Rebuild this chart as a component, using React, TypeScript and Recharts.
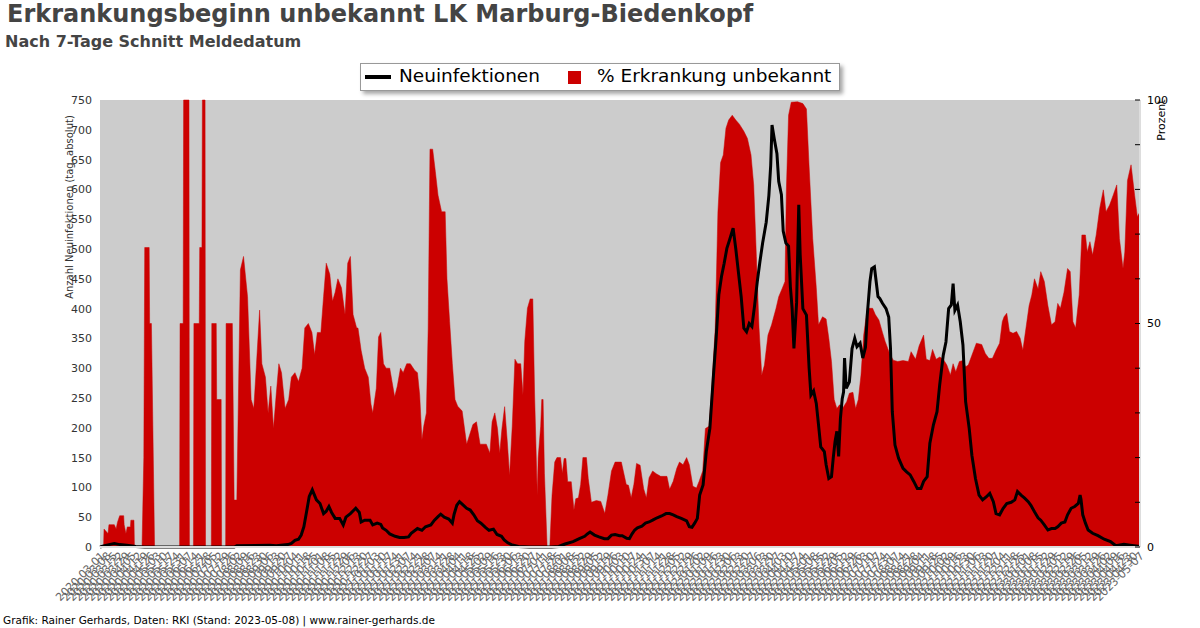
import React from "react"
import {
  ComposedChart,
  Area,
  Line,
  XAxis,
  YAxis,
  CartesianGrid,
} from "recharts"

// Tag 0 = 2020-03-01, Stand 2023-05-08
const START_DATE = Date.UTC(2020, 2, 1)
const LAST_DAY = 1163

// [Tag, % Erkrankungsbeginn unbekannt]
const unknownShare: [number, number][] = [
  [0, 0], [4, 0], [4.5, 4], [9, 3], [10, 5], [16, 5], [18, 4], [19.5, 5.5], [22, 7], [26.5, 7],
  [27, 5], [29, 3], [30.5, 4.5], [34, 4.5], [34.5, 6], [38, 6], [38.5, 0],
  [47, 0], [49, 20], [50, 67], [55, 67], [55.5, 50], [57.5, 50], [61, 0],
  [89, 0], [89.5, 50], [93, 50], [93.5, 100], [99.5, 100], [100, 0],
  [104.5, 0], [105, 50], [111, 50], [111.5, 67], [114, 67], [114.5, 100], [117.5, 100], [118, 0],
  [124.5, 0], [125, 50], [130, 50], [130.5, 33], [135.5, 33], [136, 0],
  [140.5, 0], [141, 50], [148, 50], [150, 10.5], [153, 10.5],
  [157, 62], [160.5, 65], [165, 56], [169, 33], [172, 31], [175, 41], [178.5, 53], [181, 41],
  [185, 38], [188, 30], [191, 36], [194, 26.5], [197, 34], [200, 41], [203, 39], [207, 31],
  [211, 33], [214, 38], [218, 39], [222, 37], [226, 40], [229, 49], [233, 50], [237, 48],
  [240, 43], [243, 48], [247, 48], [250, 56], [253, 63.5], [257, 61], [260, 55], [263, 57],
  [266, 60], [270, 58], [274, 52], [277, 63.5], [280, 65], [283, 52], [287, 49],
  [288.5, 49], [292, 44], [296, 40], [300, 38], [303, 32], [305, 30], [309, 35.5], [311.5, 47],
  [314, 48], [317, 41], [320, 40], [324, 40], [329.5, 33.6], [332.5, 36], [336, 40], [339, 39],
  [343, 41], [347, 41], [352, 39.5], [355, 39], [357.5, 34], [360, 24], [362, 27], [365, 30],
  [367, 49], [369, 89], [372, 89], [375, 84], [378, 78.7], [382, 75], [386, 75], [388, 60],
  [391, 50.4], [394, 41], [397, 33], [400, 31.5], [405, 30.4], [410, 23], [414, 25.5], [417, 27.4],
  [421, 28], [425, 23], [432, 23], [436, 21], [438.5, 28], [441.5, 30], [444.5, 26.5], [447, 21],
  [449.5, 26.5], [452.5, 31.4], [455.5, 23.5], [458, 16], [461, 27], [464, 42], [467, 41],
  [470.5, 41], [473, 34], [475, 46], [478, 53.4], [481, 55.5], [484, 55.5], [486, 34], [489, 11.6],
  [490, 20], [492.8, 27], [494, 33], [495.5, 33], [497, 16.5], [500, 0], [503, 0], [505.5, 11.6],
  [508.5, 19], [511, 20], [515, 20], [517, 16.5], [519, 19.8], [521, 19.8], [523, 14.6], [527, 14.6],
  [530, 8.3], [532, 10.8], [535, 11], [537.5, 14], [540, 20], [544, 20], [546, 15.3], [549.5, 10],
  [555, 10.4], [560, 10.2], [564.5, 7.5], [568, 11.6], [572, 17], [576, 19], [581, 19],
  [583, 19], [588.5, 14], [591, 13.8], [594, 11], [597, 14], [600, 18.7], [604, 18.3], [608, 13],
  [611, 11], [614, 15.5], [618, 17], [622, 16.4], [627, 15.8], [634, 15.8], [637, 12.9], [641, 14.7],
  [645, 17.6], [648, 19], [652, 18.4], [656, 20], [659, 18.4], [663, 13.6], [667, 13.2], [670, 14.7],
  [674, 17], [677, 26.5], [681, 27], [684, 35], [688, 49], [691, 75], [694, 86], [697, 87.7],
  [700, 93.7], [703, 95.5], [707, 96.6], [711, 95.5], [715, 94.6], [720, 93], [724, 91.4],
  [728, 87.7], [731, 81], [734, 65], [737, 49], [740, 38.5], [743, 40.7], [747, 47.4], [751, 49.7],
  [756, 53.4], [759, 56], [763, 57.9], [766, 59.4], [767.5, 79.5], [770, 96.6], [773, 99.5],
  [780, 99.6], [786, 99.2], [790, 98], [793, 85], [797, 69], [801, 58], [803.5, 49.7], [808, 51.5],
  [812, 51], [815, 46.7], [818, 41.5], [821, 33], [824, 31], [827, 31.8], [831, 31.2], [835, 32.5],
  [838, 34.4], [842, 34.6], [845, 31], [848, 33], [851, 38.5], [854, 47.4], [858, 53.4], [864, 53.4],
  [867, 52], [871, 50.8],
  [875, 48], [878, 46], [883, 43.3], [887, 41.8], [892, 41.5], [898, 41.7], [904, 41.5], [907, 43.7],
  [912, 42], [916, 45], [921, 47.4], [924, 42], [928, 41.7], [931, 44.2], [935, 42], [939, 42.5],
  [943, 42], [947, 40.7], [951, 38.5], [954, 41], [957, 39.2], [961, 41.5], [965, 41.7], [968, 40.3],
  [971, 40.7], [975, 42.9], [980, 45.6], [986, 45.3], [990, 43.3], [994, 42.2], [998, 42.2],
  [1002, 44], [1006, 45.6], [1009, 50.4], [1011, 51.5], [1014, 52.3], [1017, 48.2], [1021, 47.8],
  [1025, 48.2], [1029, 46.7], [1032, 44], [1036, 49.7], [1039, 54], [1042, 56.4], [1045, 60],
  [1049, 57.7], [1052, 61.6], [1056, 59.4], [1060, 54], [1064, 49.7], [1068, 50.4], [1071, 54.5],
  [1074, 53.4], [1078, 57], [1082, 62.3], [1085, 61.6], [1088, 50.4], [1091, 49], [1095, 56.4],
  [1098, 69.8], [1102, 69.8], [1104, 66], [1107, 68.3], [1110, 65.3], [1114, 69.8], [1118, 75.8],
  [1122, 79.9], [1125, 75], [1129, 76.5], [1133, 78.7], [1137, 81], [1140, 69], [1144, 62.3],
  [1146, 66], [1149, 82], [1153, 85.5], [1157, 78.7], [1160, 73.9], [1163, 75],
]

// [Tag, Neuinfektionen (7-Tage-Schnitt)]
const newCases: [number, number][] = [
  [0, 0], [5, 2], [10, 4], [16, 6], [22, 4], [30, 3], [40, 1], [50, 0], [150, 0], [153, 2],
  [190, 3], [197, 2], [210, 4], [214, 6], [218, 11], [222, 13], [225, 20], [228, 34], [231, 59],
  [234, 85], [237.4, 96], [239, 90], [242, 79], [246, 73], [250, 56], [253, 60], [256, 68],
  [259, 58], [263, 48], [268, 48], [272, 37], [275, 50], [280, 56], [284, 62], [286, 65], [290, 58],
  [292, 42], [296, 45], [302, 45], [305, 37], [310, 40], [314, 38], [316, 32], [320, 28], [324, 22],
  [330, 18], [335, 16], [340, 16], [345, 17], [348, 23], [355, 31], [360, 28], [364, 34], [370, 37],
  [374, 45], [378, 51], [381, 55], [385, 50], [390, 47], [394, 40], [396, 55], [399, 70], [402, 76],
  [405, 72], [410, 65], [414, 62], [418, 54], [422, 44], [426, 40], [431, 33], [435, 28], [440, 30],
  [444, 21], [449, 18], [452, 12], [456, 7], [460, 4], [468, 1], [480, 0], [505, 0], [513, 1],
  [520, 5], [529, 9], [536, 14], [542, 18], [545, 22], [548, 25], [553, 20], [558, 17], [564, 14],
  [568, 14], [572, 20], [576, 21], [581, 19],
  [584, 19], [589, 14.5], [592, 14], [595, 22], [598, 28.5], [601, 32], [606, 35], [610, 40],
  [614, 42], [618, 45], [623, 49], [628, 52], [633, 56], [637, 56], [641, 54], [645, 51], [650, 48],
  [656, 44], [659, 34], [662, 33], [665, 40], [668, 48], [670.6, 87], [674.4, 104], [678, 160],
  [682, 199], [686, 288], [689, 350], [692, 423], [695, 454], [698, 476], [701, 501], [704, 515],
  [708, 535], [711, 500], [714, 460], [717, 420], [720, 367], [723, 361], [726, 375], [729, 370],
  [732, 405], [735, 445], [738, 479], [741, 510], [745, 545], [748, 590], [750, 640], [751.5, 708],
  [754, 685], [757, 660], [759, 613], [762, 591], [764, 530], [767, 510], [770, 505], [772, 437],
  [774, 400], [776, 333], [779, 410], [781.4, 574], [783, 490], [786, 400], [790, 389], [793, 300],
  [795, 255], [798, 262], [801, 241], [803.5, 205], [806, 168], [810, 160], [812, 138], [815, 115],
  [818, 118], [820, 150], [822, 177], [824, 194], [826, 152], [828, 216], [830, 249], [831.5, 260],
  [832.6, 317], [834.5, 266], [838, 277], [841, 333], [844, 350], [846.5, 336], [850, 342],
  [853, 317], [856, 335], [858, 389], [861, 445], [863, 467], [866, 470], [868, 445], [870, 420],
  [872, 417], [875, 409], [879, 400], [882, 386], [884, 333], [886, 227], [889, 171], [893, 149],
  [898, 132], [902, 126], [906, 121], [910, 110], [914, 98], [918, 98], [921, 110], [925, 118],
  [928, 174], [932, 205], [936, 227], [939, 272], [943, 322], [946, 344], [949, 400], [952, 406],
  [954, 442], [956, 397], [959, 406], [962, 378], [965, 339], [968, 244], [972, 199], [975, 154],
  [979, 115], [983, 87], [987, 79], [991, 84], [995, 90], [999, 76], [1002, 56], [1006, 54],
  [1010, 65], [1014, 73], [1019, 75], [1023, 79], [1026, 93], [1030, 87], [1034, 82], [1038, 76],
  [1041, 70], [1045, 59], [1049, 49], [1052, 45], [1056, 37], [1060, 28.5], [1064, 31], [1068, 31],
  [1071, 34], [1075, 40], [1079, 42], [1082, 54], [1086, 65], [1090, 68], [1094, 73], [1096, 87],
  [1097, 80], [1099, 54], [1102, 40], [1105, 28.5], [1110, 23], [1116, 19], [1123, 13], [1130, 9],
  [1136, 2], [1145, 4.5], [1152, 3], [1163, 1],
]

const caseTicks = [0, 50, 100, 150, 200, 250, 300, 350, 400, 450, 500, 550, 600, 650, 700, 750]
const pctTicks = [0, 10, 20, 30, 40, 50, 60, 70, 80, 90, 100]
const pctLabelled = [0, 50, 100]
const DATE_STEP = 7

const dateTicks: number[] = []
for (let d = 0; d <= LAST_DAY; d += DATE_STEP) dateTicks.push(d)

const formatDate = (d: number) =>
  new Date(START_DATE + d * 86400000).toISOString().slice(0, 10)

const shareData = unknownShare.map(([d, v]) => ({ d, v }))
const caseData = newCases.map(([d, v]) => ({ d, v }))

const RED = "#cc0000"
const FONT = "'DejaVu Sans', sans-serif"

export default function App() {
  return (
    <div
      style={{
        position: "absolute",
        left: 0,
        top: 0,
        width: 1200,
        height: 628,
        background: "#fff",
        fontFamily: FONT,
      }}
    >
      <ComposedChart
        width={1200}
        height={628}
        margin={{ top: 100, right: 0, bottom: 0, left: 0 }}
      >
        <CartesianGrid
          horizontal={false}
          vertical={false}
          fill="#cccccc"
          stroke="none"
        />
        <XAxis
          dataKey="d"
          type="number"
          domain={[0, LAST_DAY]}
          ticks={dateTicks}
          interval={0}
          tickFormatter={formatDate}
          angle={-45}
          textAnchor="end"
          height={81}
          tickSize={0}
          tickMargin={4}
          axisLine={{ stroke: "#dddddd", strokeWidth: 2 }}
          tick={{ fontSize: 11, fill: "#666", stroke: "none", fontFamily: FONT }}
        />
        <YAxis
          yAxisId="cases"
          orientation="left"
          width={100}
          domain={[0, 750]}
          ticks={caseTicks}
          interval={0}
          tickSize={0}
          tickMargin={8}
          axisLine={false}
          tick={{ fontSize: 11, fill: "#333", stroke: "none", fontFamily: FONT }}
        />
        <YAxis
          yAxisId="pct"
          orientation="right"
          width={60}
          domain={[0, 100]}
          ticks={pctTicks}
          interval={0}
          tickSize={-5}
          tickMargin={12}
          tickLine={{ stroke: "#000" }}
          axisLine={{ stroke: "#dddddd", strokeWidth: 2 }}
          tickFormatter={(v: number) => (pctLabelled.includes(v) ? String(v) : "")}
          tick={{ fontSize: 11, fill: "#000", stroke: "none", fontFamily: FONT }}
        />
        <Area
          yAxisId="pct"
          data={shareData}
          dataKey="v"
          type="linear"
          fill={RED}
          fillOpacity={1}
          stroke={RED}
          strokeWidth={0.5}
          isAnimationActive={false}
        />
        <Line
          yAxisId="cases"
          data={caseData}
          dataKey="v"
          type="linear"
          stroke="#000"
          strokeWidth={3}
          dot={false}
          isAnimationActive={false}
        />
      </ComposedChart>

      <div
        style={{
          position: "absolute",
          left: 7,
          top: 0,
          fontSize: 24,
          fontWeight: "bold",
          color: "#444",
          whiteSpace: "nowrap",
        }}
      >
        Erkrankungsbeginn unbekannt LK Marburg-Biedenkopf
      </div>
      <div
        style={{
          position: "absolute",
          left: 5,
          top: 32,
          fontSize: 16,
          fontWeight: "bold",
          color: "#444",
          whiteSpace: "nowrap",
        }}
      >
        Nach 7-Tage Schnitt Meldedatum
      </div>

      {/* Legende */}
      <div
        style={{
          position: "absolute",
          left: 360,
          top: 63,
          width: 478,
          height: 26,
          border: "1px solid #999",
          background: "#fff",
          boxShadow: "3px 3px 4px rgba(0,0,0,0.35)",
          fontSize: 18.5,
          color: "#000",
          whiteSpace: "nowrap",
        }}
      >
        <div
          style={{
            position: "absolute",
            left: 4,
            top: 11,
            width: 26,
            height: 4,
            background: "#000",
          }}
        />
        <div style={{ position: "absolute", left: 38, top: 1 }}>Neuinfektionen</div>
        <div
          style={{
            position: "absolute",
            left: 207,
            top: 7,
            width: 13,
            height: 13,
            background: RED,
          }}
        />
        <div style={{ position: "absolute", left: 236, top: 1 }}>% Erkrankung unbekannt</div>
      </div>

      <div
        style={{
          position: "absolute",
          left: 70 - 150,
          top: 207 - 7,
          width: 300,
          height: 14,
          lineHeight: "14px",
          textAlign: "center",
          fontSize: 10,
          color: "#333",
          transform: "rotate(-90deg)",
          whiteSpace: "nowrap",
        }}
      >
        Anzahl Neuinfektionen (tag. absolut)
      </div>
      <div
        style={{
          position: "absolute",
          left: 1162 - 40,
          top: 120 - 7,
          width: 80,
          height: 14,
          lineHeight: "14px",
          textAlign: "center",
          fontSize: 11,
          color: "#000",
          transform: "rotate(-90deg)",
          whiteSpace: "nowrap",
        }}
      >
        Prozent
      </div>

      <div
        style={{
          position: "absolute",
          left: 3,
          top: 614,
          fontSize: 10.5,
          color: "#000",
          whiteSpace: "nowrap",
        }}
      >
        Grafik: Rainer Gerhards, Daten: RKI (Stand: 2023-05-08) | www.rainer-gerhards.de
      </div>
    </div>
  )
}
